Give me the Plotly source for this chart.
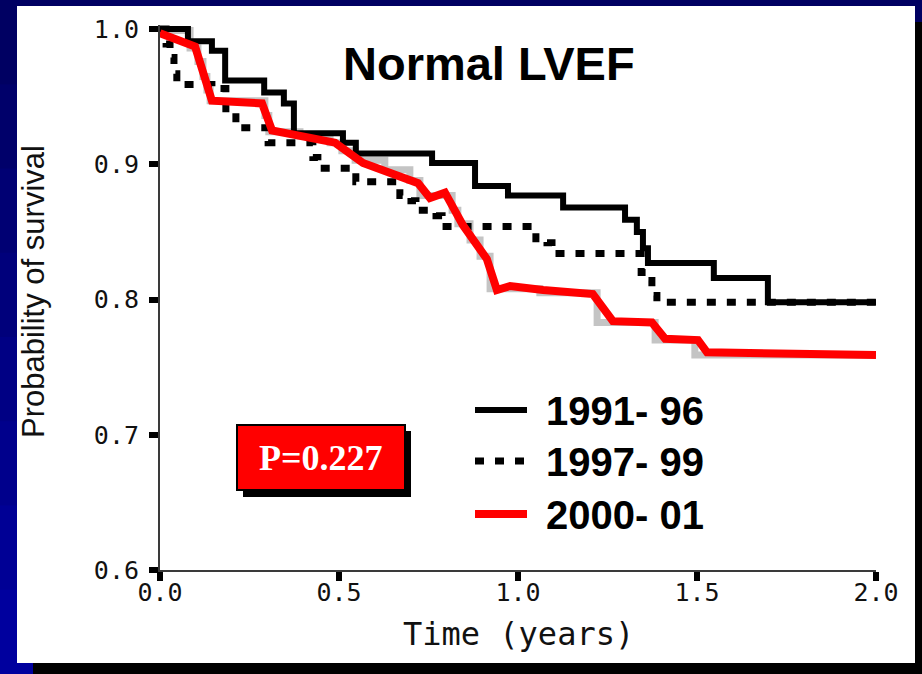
import plotly.graph_objects as go

# Kaplan-Meier survival, patients with normal LVEF, by period of admission
series_names = ["1991- 96", "1997- 99", "2000- 01"]

# 1991-96: step points (time in years, survival probability)
t_1991 = [0.0, 0.078, 0.145, 0.182, 0.291, 0.346, 0.374, 0.511, 0.547, 0.760,
          0.880, 0.972, 1.126, 1.299, 1.332, 1.349, 1.363, 1.547, 1.698, 2.0]
s_1991 = [1.0, 0.991, 0.984, 0.962, 0.953, 0.945, 0.923, 0.916, 0.908, 0.901,
          0.884, 0.877, 0.868, 0.859, 0.850, 0.838, 0.827, 0.816, 0.798, 0.798]

# 1997-99: step points
t_1997 = [0.0, 0.017, 0.028, 0.039, 0.047, 0.145, 0.184, 0.212, 0.302, 0.427,
          0.441, 0.547, 0.670, 0.701, 0.715, 0.771, 0.788, 1.050, 1.081, 1.095,
          1.344, 1.363, 1.374, 1.388, 2.0]
s_1997 = [1.0, 0.989, 0.979, 0.967, 0.959, 0.956, 0.938, 0.927, 0.916, 0.905,
          0.897, 0.887, 0.877, 0.873, 0.866, 0.862, 0.854, 0.845, 0.842, 0.834,
          0.820, 0.814, 0.803, 0.798, 0.798]

# 2000-01: smoothed curve drawn over its step estimate
t_2000 = [0.0, 0.098, 0.145, 0.285, 0.313, 0.489, 0.567, 0.721, 0.754, 0.796,
          0.846, 0.913, 0.941, 0.978, 1.070, 1.209, 1.265, 1.374, 1.411, 1.503,
          1.528, 2.0]
s_2000 = [0.997, 0.987, 0.947, 0.945, 0.925, 0.916, 0.901, 0.886, 0.875, 0.879,
          0.855, 0.830, 0.807, 0.810, 0.807, 0.804, 0.784, 0.783, 0.771, 0.770,
          0.761, 0.759]

t_2000_step = [0.0, 0.084, 0.106, 0.120, 0.131, 0.140, 0.293, 0.304, 0.391, 0.475,
               0.508, 0.545, 0.628, 0.698, 0.726, 0.816, 0.832, 0.866, 0.894, 0.922,
               1.061, 1.221, 1.383, 1.494, 2.0]
s_2000_step = [0.999, 0.986, 0.976, 0.965, 0.955, 0.947, 0.936, 0.924, 0.921, 0.916,
               0.910, 0.903, 0.896, 0.888, 0.877, 0.866, 0.856, 0.844, 0.832, 0.808,
               0.805, 0.783, 0.770, 0.759, 0.758]

x_ticks = [0.0, 0.5, 1.0, 1.5, 2.0]
x_tick_text = ["0.0", "0.5", "1.0", "1.5", "2.0"]
y_ticks = [0.6, 0.7, 0.8, 0.9, 1.0]
y_tick_text = ["0.6", "0.7", "0.8", "0.9", "1.0"]

p_value_text = "P=0.227"

W, H = 922, 674
ML, MR, MT, MB = 160, 46, 25, 104
PW, PH = W - ML - MR, H - MT - MB


def px_x(px):
    """pixel column -> paper x"""
    return (px - ML) / PW


def px_y(py):
    """pixel row -> paper y"""
    return (H - MB - py) / PH


DOT = "9px,11px"

fig = go.Figure()
fig.add_trace(go.Scatter(x=t_2000_step, y=s_2000_step, mode="lines",
                         line=dict(color="#c4c4c4", width=7, shape="hv"),
                         hoverinfo="skip", showlegend=False))
fig.add_trace(go.Scatter(x=t_1991, y=s_1991, mode="lines", name=series_names[0],
                         line=dict(color="black", width=6, shape="hv"),
                         showlegend=False))
fig.add_trace(go.Scatter(x=t_1997, y=s_1997, mode="lines", name=series_names[1],
                         line=dict(color="black", width=7, shape="hv", dash=DOT),
                         showlegend=False))
fig.add_trace(go.Scatter(x=t_2000, y=s_2000, mode="lines", name=series_names[2],
                         line=dict(color="#ff0000", width=8),
                         showlegend=False))

shapes = []
# blue slide background, darker at the top
n_bands = 8
for i in range(n_bands):
    r0 = i * H / n_bands
    r1 = (i + 1) * H / n_bands + 1
    b = int(0x62 + (0x9e - 0x62) * i / (n_bands - 1))
    shapes.append(dict(type="rect", xref="paper", yref="paper", layer="below",
                       x0=px_x(-5), x1=px_x(W + 5), y0=px_y(r1), y1=px_y(r0),
                       fillcolor=f"rgb(0,0,{b})", line=dict(width=0)))
# panel shadow and white panel
shapes.append(dict(type="rect", xref="paper", yref="paper", layer="below",
                   x0=px_x(33), x1=px_x(W + 10), y0=px_y(H + 10), y1=px_y(22),
                   fillcolor="black", line=dict(width=0)))
shapes.append(dict(type="rect", xref="paper", yref="paper", layer="below",
                   x0=px_x(17), x1=px_x(915), y0=px_y(663), y1=px_y(6),
                   fillcolor="white", line=dict(width=0)))

# p-value box with drop shadow
shapes.append(dict(type="rect", xref="paper", yref="paper", layer="above",
                   x0=px_x(243), x1=px_x(411), y0=px_y(497), y1=px_y(431),
                   fillcolor="black", line=dict(width=0)))
shapes.append(dict(type="rect", xref="paper", yref="paper", layer="above",
                   x0=px_x(237), x1=px_x(405), y0=px_y(490), y1=px_y(425),
                   fillcolor="#ff0000", line=dict(color="black", width=2)))

# legend samples
legend_rows = [410, 461, 514]
legend_styles = [dict(color="black", width=6),
                 dict(color="black", width=7, dash=DOT),
                 dict(color="#ff0000", width=8)]
annotations = []
for name, row, style in zip(series_names, legend_rows, legend_styles):
    shapes.append(dict(type="line", xref="paper", yref="paper", layer="above",
                       x0=px_x(475), x1=px_x(527), y0=px_y(row), y1=px_y(row),
                       line=style))
    annotations.append(dict(text=name, xref="paper", yref="paper",
                            x=px_x(544), y=px_y(row + 1), xanchor="left",
                            yanchor="middle", showarrow=False,
                            font=dict(family="Liberation Sans, Arial", size=40,
                                      color="black", weight="bold")))

annotations.append(dict(text=p_value_text, xref="paper", yref="paper",
                        x=px_x(321), y=px_y(458), xanchor="center", yanchor="middle",
                        showarrow=False,
                        font=dict(family="Liberation Serif, Times New Roman", size=36,
                                  color="white", weight="bold")))
annotations.append(dict(text="Normal LVEF", xref="paper", yref="paper",
                        x=px_x(489), y=px_y(64), xanchor="center", yanchor="middle",
                        showarrow=False,
                        font=dict(family="Liberation Sans, Arial", size=47,
                                  color="black", weight="bold")))
annotations.append(dict(text="Time (years)", xref="paper", yref="paper",
                        x=px_x(518), y=px_y(634), xanchor="center", yanchor="middle",
                        showarrow=False,
                        font=dict(family="DejaVu Sans Mono", size=32, color="#111")))
annotations.append(dict(text="Probability of survival", xref="paper", yref="paper",
                        x=px_x(33), y=px_y(292), xanchor="center", yanchor="middle",
                        textangle=-90, showarrow=False,
                        font=dict(family="Liberation Sans, Arial", size=31, color="#111")))

axis_common = dict(showline=True, linecolor="#3a3a3a", linewidth=2, ticks="outside",
                   ticklen=9, tickwidth=6, tickcolor="black", showgrid=False,
                   zeroline=False, fixedrange=True,
                   tickfont=dict(family="DejaVu Sans Mono", size=25, color="#111"))

fig.update_layout(
    width=W, height=H,
    margin=dict(l=ML, r=MR, t=MT, b=MB, pad=0),
    paper_bgcolor="#000080", plot_bgcolor="white",
    xaxis=dict(range=[0, 2.0], tickvals=x_ticks, ticktext=x_tick_text,
               ticklabelstandoff=-10, **axis_common),
    yaxis=dict(range=[0.6, 1.003], tickvals=y_ticks, ticktext=y_tick_text,
               ticklabelstandoff=5, **axis_common),
    shapes=shapes, annotations=annotations,
    showlegend=False,
)

fig.write_html("out.html")
